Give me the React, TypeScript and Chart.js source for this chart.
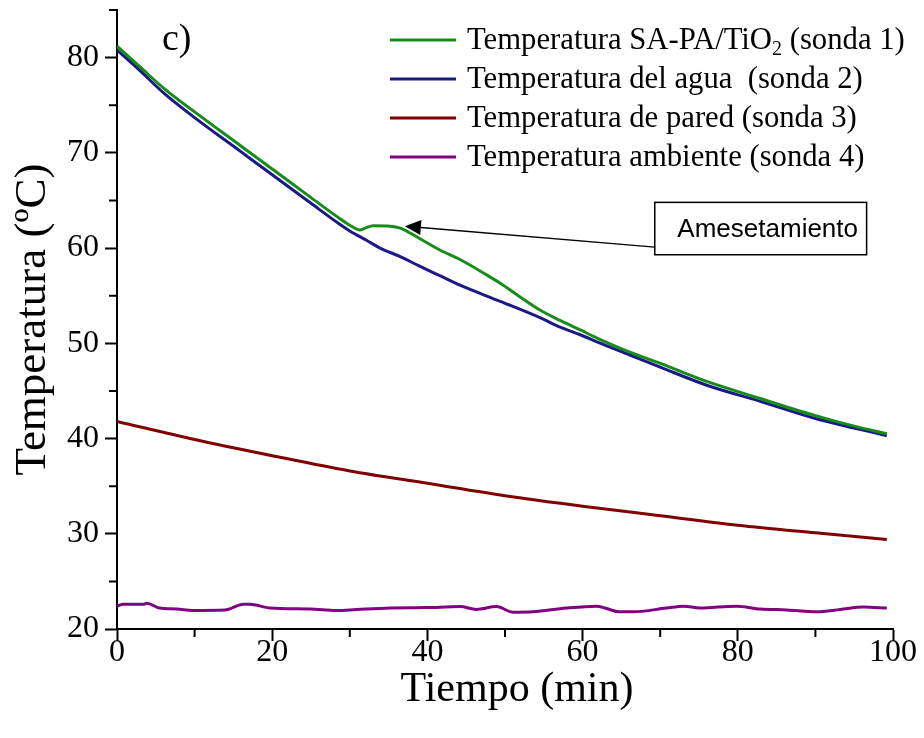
import React, { useEffect, useRef } from "react";
import { Chart, registerables } from "chart.js";

Chart.register(...registerables);

// ---------- data ----------
const seriesLabels = [
  "Temperatura SA-PA/TiO₂ (sonda 1)",
  "Temperatura del agua  (sonda 2)",
  "Temperatura de pared (sonda 3)",
  "Temperatura ambiente (sonda 4)",
];
const seriesColors = ["#188c18", "#1a1a86", "#800000", "#800080"];

const tiempo1 = [0, 3, 6, 10, 16, 20, 25, 28.7, 30, 31.3, 32, 33, 35.2, 36.5, 39, 41.6, 44.2, 47.6, 49.4, 51.9, 54.5, 57.1, 59.7, 62, 66, 70, 76, 82.9, 90, 95, 99.2];
const sonda1 = [81.2, 79.0, 76.8, 74.3, 70.7, 68.3, 65.3, 63.1, 62.4, 61.9, 62.1, 62.35, 62.3, 62.1, 61.0, 59.8, 58.8, 57.2, 56.3, 54.9, 53.5, 52.4, 51.4, 50.5, 49.1, 47.9, 46.0, 44.2, 42.4, 41.3, 40.5];

const tiempo2 = [0, 3, 6, 10, 16, 20, 25, 28.7, 30, 32.2, 33.9, 36.5, 39, 41.6, 44.2, 49.4, 54.5, 57.1, 59.7, 62, 66, 70, 76, 82.9, 90, 95, 99.2];
const sonda2 = [80.8, 78.6, 76.3, 73.7, 70.1, 67.7, 64.7, 62.5, 61.8, 60.8, 60.0, 59.1, 58.1, 57.1, 56.1, 54.4, 52.7, 51.7, 50.9, 50.1, 48.8, 47.5, 45.6, 43.9, 42.1, 41.1, 40.3];

const tiempo3 = [0, 10, 20, 30, 40, 50, 60, 70, 80, 90, 99.2];
const sonda3 = [41.8, 39.9, 38.2, 36.6, 35.3, 34.0, 32.9, 31.9, 30.9, 30.1, 29.4];

const tiempo4 = [0, 0.8, 3.4, 3.8, 5.5, 7.7, 9.8, 13.9, 16.3, 17.1, 19.7, 24.9, 28.3, 30.9, 35.2, 39.9, 44.2, 46.3, 48.9, 51.1, 53.6, 57.9, 61.8, 64.8, 66.5, 70.8, 73, 75.1, 79.8, 82.9, 86.3, 90.2, 93.2, 96.2, 99.2];
const sonda4 = [22.4, 22.6, 22.6, 22.7, 22.2, 22.1, 21.95, 22.0, 22.6, 22.6, 22.2, 22.1, 21.95, 22.05, 22.2, 22.25, 22.35, 22.05, 22.35, 21.75, 21.8, 22.2, 22.4, 21.8, 21.8, 22.2, 22.4, 22.2, 22.4, 22.1, 22.0, 21.8, 22.05, 22.3, 22.2];

const seriesTimes = [tiempo1, tiempo2, tiempo3, tiempo4];
const seriesValues = [sonda1, sonda2, sonda3, sonda4];

const xMin = 0, xMax = 100, xMajorStep = 20, xMinorTicks = [10, 30, 50, 70, 90];
const yMin = 20, yMax = 85, yMajorStep = 10, yMinorTicks = [25, 35, 45, 55, 65, 75, 85];

const xTitle = "Tiempo (min)";
const yTitle = "Temperatura (ºC)";
const panelLabel = "c)";
const panelLabelPos = { x: 5.8, y: 81.8 };

const annotationText = "Amesetamiento";
const arrowTip = { x: 37.1, y: 62.3 };
const arrowTail = { x: 69.3, y: 60.1 };
const boxXRange = [69.3, 96.6];
const boxYRange = [59.3, 64.8];

const SERIF = "'Liberation Serif', 'Times New Roman', serif";
const SANS = "'Liberation Sans', Arial, sans-serif";

const decorPlugin = {
  id: "decor",
  afterDraw(chart: any) {
    const ctx = chart.ctx;
    const xs = chart.scales.x;
    const ys = chart.scales.y;
    const area = chart.chartArea;
    ctx.save();
    // minor ticks
    ctx.strokeStyle = "#000";
    ctx.lineWidth = 2;
    ctx.beginPath();
    for (const v of xMinorTicks) {
      const px = xs.getPixelForValue(v);
      ctx.moveTo(px, area.bottom);
      ctx.lineTo(px, area.bottom + 8);
    }
    for (const v of yMinorTicks) {
      const py = ys.getPixelForValue(v);
      ctx.moveTo(area.left - 8, py);
      ctx.lineTo(area.left, py);
    }
    ctx.stroke();

    // x title
    ctx.fillStyle = "#000";
    ctx.font = `42px ${SERIF}`;
    ctx.textAlign = "center";
    ctx.textBaseline = "middle";
    ctx.fillText(xTitle, (area.left + area.right) / 2 + 12, 690);

    // panel label
    ctx.font = `38px ${SERIF}`;
    ctx.textAlign = "left";
    ctx.textBaseline = "middle";
    ctx.fillText(panelLabel, xs.getPixelForValue(panelLabelPos.x), ys.getPixelForValue(panelLabelPos.y));

    // legend
    const legX0 = 390, legX1 = 456, legTextX = 467, legY0 = 40, legDy = 39;
    chart.data.datasets.forEach((ds: any, i: number) => {
      const y = legY0 + i * legDy;
      ctx.strokeStyle = ds.borderColor;
      ctx.lineWidth = 3;
      ctx.beginPath();
      ctx.moveTo(legX0, y);
      ctx.lineTo(legX1, y);
      ctx.stroke();
      ctx.fillStyle = "#000";
      ctx.textBaseline = "middle";
      ctx.textAlign = "left";
      const label: string = ds.label;
      const parts = label.split("₂");
      let x = legTextX;
      ctx.font = `30.7px ${SERIF}`;
      ctx.fillText(parts[0], x, y + 1);
      x += ctx.measureText(parts[0]).width;
      if (parts.length > 1) {
        ctx.font = `20px ${SERIF}`;
        ctx.fillText("2", x, y + 10);
        x += ctx.measureText("2").width;
        ctx.font = `30.7px ${SERIF}`;
        ctx.fillText(parts[1], x, y + 1);
      }
    });

    // annotation
    const tipX = xs.getPixelForValue(arrowTip.x), tipY = ys.getPixelForValue(arrowTip.y);
    const tailX = xs.getPixelForValue(arrowTail.x), tailY = ys.getPixelForValue(arrowTail.y);
    const ang = Math.atan2(tipY - tailY, tipX - tailX);
    const headLen = 16, headHalf = 7.5;
    const baseX = tipX - headLen * Math.cos(ang), baseY = tipY - headLen * Math.sin(ang);
    ctx.strokeStyle = "#000";
    ctx.lineWidth = 1.5;
    ctx.beginPath();
    ctx.moveTo(tailX, tailY);
    ctx.lineTo(baseX, baseY);
    ctx.stroke();
    ctx.fillStyle = "#000";
    ctx.beginPath();
    ctx.moveTo(tipX, tipY);
    ctx.lineTo(baseX + headHalf * Math.sin(ang), baseY - headHalf * Math.cos(ang));
    ctx.lineTo(baseX - headHalf * Math.sin(ang), baseY + headHalf * Math.cos(ang));
    ctx.closePath();
    ctx.fill();

    const bx0 = xs.getPixelForValue(boxXRange[0]), bx1 = xs.getPixelForValue(boxXRange[1]);
    const by0 = ys.getPixelForValue(boxYRange[1]), by1 = ys.getPixelForValue(boxYRange[0]);
    ctx.fillStyle = "#fff";
    ctx.fillRect(bx0, by0, bx1 - bx0, by1 - by0);
    ctx.strokeStyle = "#000";
    ctx.lineWidth = 1.5;
    ctx.strokeRect(bx0, by0, bx1 - bx0, by1 - by0);
    ctx.fillStyle = "#000";
    ctx.font = `26px ${SANS}`;
    ctx.textAlign = "center";
    ctx.textBaseline = "middle";
    ctx.fillText(annotationText, (bx0 + bx1) / 2 + 7, (by0 + by1) / 2 + 1);
    ctx.restore();
  },
};

export default function App() {
  const canvasRef = useRef<HTMLCanvasElement | null>(null);

  useEffect(() => {
    const canvas = canvasRef.current;
    if (!canvas) return;
    const datasets = seriesLabels.map((label, i) => ({
      label,
      data: seriesTimes[i].map((t, j) => ({ x: t, y: seriesValues[i][j] })),
      borderColor: seriesColors[i],
      backgroundColor: seriesColors[i],
      borderWidth: 3,
      pointRadius: 0,
      fill: false,
      cubicInterpolationMode: "monotone" as const,
    }));
    const chart = new Chart(canvas, {
      type: "line",
      data: { datasets },
      options: {
        responsive: false,
        animation: false,
        layout: { padding: { top: 10, right: 31, left: 0, bottom: 0 } },
        plugins: { legend: { display: false }, tooltip: { enabled: false } },
        scales: {
          x: {
            type: "linear",
            min: xMin,
            max: xMax,
            ticks: {
              stepSize: xMajorStep,
              font: { family: SERIF, size: 32 },
              color: "#000",
              padding: -8,
              maxRotation: 0,
            },
            grid: { drawOnChartArea: false, tickLength: 12, tickWidth: 2, tickColor: "#000" },
            border: { display: true, color: "#000", width: 2 },
            title: { display: false, text: xTitle },
            afterFit(scale: any) {
              scale.height = 109;
              scale.paddingLeft = 0;
              scale.paddingRight = 0;
            },
          },
          y: {
            type: "linear",
            min: yMin,
            max: yMax,
            ticks: {
              stepSize: yMajorStep,
              includeBounds: false,
              font: { family: SERIF, size: 32 },
              color: "#000",
              padding: 6,
            },
            grid: { drawOnChartArea: false, tickLength: 12, tickWidth: 2, tickColor: "#000" },
            border: { display: true, color: "#000", width: 2 },
            title: {
              display: true,
              text: yTitle,
              font: { family: SERIF, size: 45 },
              color: "#000",
              padding: { top: 6, bottom: 0 },
            },
            afterFit(scale: any) {
              scale.width = 117;
              scale.paddingTop = 0;
              scale.paddingBottom = 0;
            },
          },
        },
      },
      plugins: [decorPlugin],
    });
    return () => chart.destroy();
  }, []);

  return (
    <div style={{ position: "absolute", left: 0, top: 0, width: 924, height: 738, background: "#fff" }}>
      <canvas ref={canvasRef} width={924} height={738} style={{ display: "block" }} />
    </div>
  );
}
